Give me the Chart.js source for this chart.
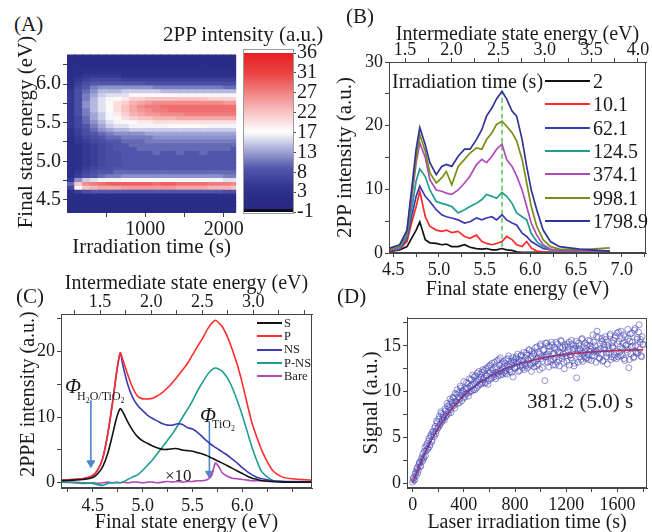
<!DOCTYPE html>
<html><head><meta charset="utf-8"><title>2PP figure</title>
<script src="https://cdn.jsdelivr.net/npm/chart.js"></script>
<style>
html,body{margin:0;padding:0;background:#fff;}
body{width:652px;height:532px;position:relative;overflow:hidden;font-family:'Liberation Serif','Times New Roman',serif;color:#1a1a1a;}
canvas{position:absolute;}
.t{position:absolute;white-space:nowrap;line-height:1;}
.ln{position:absolute;height:0;}
</style></head><body>
<canvas id="cA" width="245" height="222" style="left:0;top:40px"></canvas>
<canvas id="cCB" width="85" height="222" style="left:240px;top:40px"></canvas>
<canvas id="cB" width="322" height="293" style="left:330px;top:12px"></canvas>
<canvas id="cC" width="320" height="270" style="left:0;top:262px"></canvas>
<canvas id="cD" width="322" height="227" style="left:330px;top:305px"></canvas>
<script>
// ---------------- Panel A : heat map ----------------
const heatTimes = [50,150,250,350,450,550,650,750,850,950,1050,1150,1250,1350,1450,1550,1650,1750,1850,1950,2050,2150];
const heatEnergies = [4.35,4.40,4.45,4.50,4.55,4.60,4.65,4.70,4.75,4.80,4.85,4.90,4.95,5.00,5.05,5.10,5.15,5.20,5.25,5.30,5.35,5.40,5.45,5.50,5.55,5.60,5.65,5.70,5.75,5.80,5.85,5.90,5.95,6.00,6.05,6.10,6.15,6.20,6.25,6.30,6.35];
const heatRows = [
 [2,2,2,2,2,2,2,2,2,2,2,2,2,2,2,2,2,2,2,2,2,2],
 [2,2,2,2,2,2,2,2,2,2,2,2,2,2,2,2,2,2,2,2,2,2],
 [2,2,2,2,2,2,2,2,2,2,2,2,2,2,2,2,2,2,2,2,2,2],
 [2,2,2,2,2,2,2,2,2,2,2,2,2,2,2,2,2,2,2,2,2,2],
 [2,3,3,3,3,3,3,3,3,3,3,3,3,3,3,3,3,3,3,3,3,3],
 [3,6,8,9,9,9,9,9,9,9,9,9,9,9,9,9,9,9,9,9,8,8],
 [7,18,22,23,24,24,24,25,25,25,25,25,25,25,24,24,24,24,23,23,23,22],
 [10,22,26,27,28,29,29,29,29,29,29,28,29,29,28,28,28,28,27,27,27,26],
 [5,12,15,16,17,17,17,18,18,18,18,18,18,18,17,17,17,17,17,17,16,16],
 [3,6,8,9,10,11,11,12,12,12,12,12,12,12,12,12,12,12,12,12,11,11],
 [3,5,7,8,9,9,10,10,10,10,10,10,10,10,10,10,10,10,10,10,10,10],
 [3,4,6,7,8,8,9,9,9,9,9,9,9,9,9,9,9,9,9,9,9,9],
 [3,4,5,6,7,8,8,9,9,9,9,9,9,9,9,9,9,9,9,9,9,9],
 [3,4,5,6,7,8,8,9,9,9,9,9,9,9,9,9,9,9,9,9,9,9],
 [3,4,5,6,7,8,8,9,9,9,9,9,9,9,9,9,9,9,9,9,9,9],
 [3,4,5,6,7,8,8,9,9,9,9,10,9,9,10,9,9,10,9,9,9,9],
 [3,4,5,6,7,8,9,9,9,10,10,10,10,10,10,10,10,10,10,10,10,9],
 [3,4,5,6,7,8,9,9,10,10,10,10,10,10,10,10,10,10,10,10,10,10],
 [3,5,6,7,8,9,9,10,10,10,11,11,11,11,11,11,11,11,11,11,11,11],
 [3,5,7,8,9,10,10,11,11,11,11,12,12,12,12,12,12,12,12,12,12,12],
 [4,6,8,9,10,11,12,12,12,12,13,13,13,13,13,13,13,13,13,13,13,13],
 [4,6,8,10,12,13,14,14,15,15,15,15,15,15,15,15,15,15,15,15,15,15],
 [5,7,9,11,13,15,16,16,17,17,17,17,17,18,18,18,18,18,17,17,17,17],
 [5,7,10,12,14,16,17,18,18,19,19,20,20,20,20,20,20,20,20,20,20,20],
 [5,7,10,13,15,17,18,20,21,22,22,23,23,23,24,24,24,24,24,24,24,24],
 [5,8,11,13,15,17,19,21,23,24,25,25,26,26,26,27,27,27,27,27,27,27],
 [5,8,11,14,16,18,20,22,24,25,26,27,27,28,28,28,28,28,28,28,28,28],
 [5,8,12,14,16,18,20,22,24,26,27,27,28,28,28,28,28,28,28,28,28,28],
 [5,8,12,14,16,18,20,21,23,24,25,26,26,26,26,26,26,26,26,26,25,25],
 [5,8,11,14,16,17,18,19,21,21,22,22,22,22,22,22,22,22,21,21,21,21],
 [5,8,11,13,15,16,16,16,18,18,18,18,18,18,17,17,17,17,17,17,17,17],
 [5,8,10,12,14,14,14,15,15,15,15,15,14,14,14,14,14,14,14,14,14,14],
 [4,7,9,11,12,12,12,12,12,12,12,11,11,11,11,11,11,11,11,11,10,10],
 [4,6,8,9,9,9,9,9,9,9,8,8,8,8,8,8,8,8,8,8,8,8],
 [3,5,6,7,7,7,7,6,6,6,6,6,6,6,6,6,6,6,6,6,6,6],
 [3,4,5,5,5,5,5,4,4,4,4,4,4,4,4,4,4,4,4,4,4,4],
 [2,3,3,3,3,3,3,3,3,3,3,3,3,3,3,3,3,3,3,3,3,3],
 [2,2,2,2,2,2,2,2,2,2,2,2,2,2,2,2,2,2,2,2,2,2],
 [2,2,2,2,2,2,2,2,2,2,2,2,2,2,2,2,2,2,2,2,2,2],
 [2,2,2,2,2,2,2,2,2,2,2,2,2,2,2,2,2,2,2,2,2,2],
 [2,2,2,2,2,2,2,2,2,2,2,2,2,2,2,2,2,2,2,2,2,2]
];
const cbMin = -1, cbMax = 36;
const cbTickLabels = ['-1','3','8','13','17','22','27','31','36'];

// ---------------- Panel B : spectra vs irradiation time ----------------
const energyB = [4.45,4.57,4.65,4.70,4.75,4.79,4.85,4.90,4.97,5.03,5.08,5.14,5.21,5.28,5.34,5.41,5.47,5.52,5.58,5.63,5.69,5.74,5.80,5.85,5.91,5.96,6.01,6.07,6.14,6.22,6.32,6.54,6.87];
const timeLabelsB = ['2','10.1','62.1','124.5','374.1','998.1','1798.9'];
const b_2    = [0.2,0.5,1.0,2.3,3.6,4.9,2.1,1.6,1.5,1.3,1.4,1.0,1.0,1.3,0.9,0.7,0.6,0.7,0.5,0.5,0.7,0.5,0.4,0.2,0.1,0.1,0.1,0.1,0.1,0.1,0.1,0.1,0.1];
const b_10   = [0.3,0.6,1.8,4.7,7.3,9.7,5.7,4.2,3.6,3.4,3.6,3.2,3.4,2.6,2.3,2.8,1.8,1.5,1.3,1.5,1.8,2.6,2.1,1.3,1.0,1.8,0.8,0.3,0.2,0.1,0.1,0.1,0.1];
const b_62   = [0.4,0.6,2.3,5.7,8.9,10.5,8.9,8.1,6.8,6.0,5.7,5.5,5.2,4.7,4.9,5.5,5.2,5.5,5.7,5.2,6.0,5.2,4.7,4.4,3.1,2.6,1.8,1.3,0.7,0.5,0.4,0.3,0.3];
const b_124  = [0.5,0.7,2.6,6.8,11.3,13.2,12.0,9.9,8.1,7.8,7.6,7.3,6.3,6.8,7.3,7.8,8.4,9.2,8.9,8.6,9.5,8.9,7.8,6.3,5.7,5.2,3.1,1.8,1.0,0.5,0.3,0.2,0.2];
const b_374  = [0.5,0.9,3.1,8.4,14.2,17.3,15.0,11.5,9.9,9.7,9.4,9.2,9.9,11.0,12.1,13.9,14.7,14.2,15.2,16.3,17.1,14.7,13.6,12.1,9.9,7.3,4.7,2.8,1.3,0.6,0.3,0.2,0.2];
const b_998  = [0.6,1.0,3.4,9.4,14.7,18.6,16.0,12.6,11.0,11.8,12.8,10.7,13.6,14.7,15.7,16.5,16.3,17.8,18.9,20.2,20.7,19.9,18.9,17.6,14.7,11.0,7.3,4.2,2.1,1.0,0.6,0.5,0.8];
const b_1799 = [0.7,1.3,3.6,9.9,16.3,19.7,17.0,14.2,12.3,13.6,13.9,13.6,15.2,16.3,16.3,17.8,19.4,21.5,22.8,24.2,25.4,24.2,22.3,21.5,17.8,13.6,9.9,6.8,3.6,1.8,1.0,0.6,0.3];
const markerB = {energy: 5.69, from: 1.0, to: 25.4};

// ---------------- Panel C : samples ----------------
const energyC = [4.18,4.30,4.40,4.50,4.55,4.60,4.65,4.70,4.74,4.775,4.80,4.85,4.90,4.95,5.00,5.05,5.10,5.15,5.20,5.25,5.30,5.35,5.40,5.45,5.50,5.55,5.60,5.65,5.69,5.73,5.77,5.80,5.85,5.90,5.95,6.00,6.05,6.10,6.15,6.20,6.30,6.40,6.50,6.70];
const sampleNamesC = ['S','P','NS','P-NS','Bare'];
const c_S    = [0.3,0.4,0.5,0.8,1.4,2.5,4.5,7.5,10.0,11.3,10.8,9.3,8.0,7.0,6.4,6.0,5.6,5.3,5.1,5.1,5.2,5.2,5.0,4.9,4.8,4.6,4.4,4.1,3.8,3.5,3.2,3.0,2.6,2.2,1.8,1.4,1.0,0.7,0.5,0.3,0.2,0.1,0.1,0.1];
const c_P    = [0.4,0.5,0.6,1.1,2.0,3.8,7.5,12.5,17.0,19.8,18.8,16.5,14.5,13.2,12.8,12.8,12.9,13.3,13.8,14.5,15.3,16.2,17.2,18.2,19.5,20.8,22.0,23.4,24.3,24.8,24.3,23.8,22.3,20.3,18.0,15.2,12.0,9.0,6.8,4.8,2.0,0.9,0.6,0.4];
const c_NS   = [0.4,0.5,0.6,1.1,2.0,3.8,7.5,12.5,17.0,19.8,18.0,15.0,13.0,11.8,11.0,10.3,9.8,9.4,9.0,8.8,8.8,9.0,8.9,8.4,8.2,7.7,7.0,6.3,5.8,5.4,5.0,4.7,4.2,3.6,3.0,2.3,1.7,1.2,0.8,0.6,0.3,0.2,0.2,0.2];
const c_PNS  = [0.1,0.1,0.0,-0.1,-0.3,-0.4,-0.1,0.0,0.0,0.0,0.1,0.5,0.9,1.2,1.9,2.7,3.5,4.5,5.5,6.5,7.5,8.7,10.0,11.2,12.5,14.0,15.3,16.5,17.2,17.5,17.3,17.0,16.0,14.5,12.5,10.3,7.8,5.3,3.2,1.6,0.4,0.2,0.1,0.1];
const c_Bare = [0.1,0.0,-0.1,0.0,-0.1,0.0,0.1,0.0,0.1,0.0,0.1,0.0,0.1,0.1,0.0,0.1,0.1,0.0,0.1,0.2,0.1,0.2,0.1,0.2,0.2,0.3,0.3,0.5,1.0,3.0,2.3,1.5,1.0,0.7,0.6,0.5,0.4,0.3,0.3,0.3,0.2,0.2,0.1,0.1];
const arrowH2O  = {energy: 4.48, from: 12.6, to: 3.0};
const arrowTiO2 = {energy: 5.67, from: 9.3, to: 1.4};

// ---------------- Panel D : kinetics ----------------
const stepD = 8; // s between samples in each sweep
const signalD = [
0.1,0.6,0.4,1.2,1.5,1.1,2.0,2.3,1.9,2.8,
3.2,2.8,3.9,3.5,4.3,3.8,4.9,4.2,5.3,4.7,
5.6,5.1,6.2,5.7,6.6,6.1,7.3,6.5,7.6,6.9,
7.5,6.9,7.9,7.4,8.4,7.6,8.6,8.0,9.0,8.4,
9.3,8.2,8.9,9.7,8.7,9.9,9.2,10.4,9.0,10.1,
11.1,9.4,10.3,9.8,10.9,9.9,10.6,11.3,10.1,10.8,
11.6,10.2,11.1,12.0,10.6,11.4,11.9,10.8,12.1,11.3,
12.3,10.9,11.8,12.6,11.2,12.0,12.9,11.5,12.4,11.8,
13.2,11.4,12.5,12.0,13.5,12.2,11.8,13.0,12.6,12.1,
13.1,12.3,11.9,13.6,12.7,12.2,13.3,12.9,11.6,13.4,
12.5,13.8,13.1,12.2,13.5,12.8,14.0,12.9,13.3,12.4,
13.7,14.2,12.6,13.4,14.5,13.0,12.2,13.9,14.1,13.2,
14.8,12.8,13.6,14.3,12.4,15.2,13.9,13.3,14.6,11.2,
13.8,15.3,14.1,12.7,14.9,13.5,15.1,12.9,14.2,13.7,
15.4,13.2,14.4,12.8,14.8,15.5,13.6,14.1,12.5,14.9,
13.9,15.2,14.5,12.9,14.0,15.6,13.4,14.7,13.1,15.0,
11.5,14.6,15.3,13.8,14.2,15.7,13.3,14.9,14.4,13.6,
15.1,14.0,13.5,15.5,14.6,13.9,16.2,14.3,15.0,13.2,
16.6,14.5,13.7,15.2,14.1,15.8,13.4,14.8,16.0,14.2,
13.0,15.4,14.6,16.3,13.8,14.9,15.6,14.0,16.1,13.6,
15.2,16.5,14.3,13.9,15.8,14.7,16.2,13.4,15.0,14.6,
16.8,12.6,15.5,14.1,16.4,15.0,13.8,16.9,14.4,15.7,
14.2,17.3,15.4,13.9,16.0,15.1];
// samples taken half a step later (t = 4, 12, 20, ...)
const signalD2 = [
0.5,0.3,1.0,0.8,1.7,1.4,2.2,1.8,2.6,2.4,
2.6,3.5,3.0,4.1,3.7,4.6,4.0,5.1,4.5,5.6,
5.3,6.0,5.4,6.8,6.0,7.0,6.3,7.8,6.7,7.2,
7.1,8.1,7.3,8.7,7.8,8.3,9.2,7.7,8.8,9.4,
8.5,9.8,8.9,10.2,9.4,8.8,10.6,9.6,10.0,9.3,
10.3,9.7,11.0,10.4,9.5,11.4,10.0,10.7,11.8,10.2,
10.9,11.7,10.4,11.3,12.2,10.8,11.6,11.0,12.4,11.5,
11.0,12.5,11.7,10.8,12.8,12.1,11.4,13.1,12.0,11.6,
12.7,12.1,13.4,11.7,12.9,13.7,12.3,11.9,13.3,12.8,
12.0,13.5,12.8,13.9,12.4,13.0,12.1,13.7,13.2,12.6,
13.6,12.7,14.1,13.2,12.3,13.9,13.4,12.6,14.3,13.0,
12.8,14.0,13.5,14.6,12.9,13.7,14.4,13.1,12.7,14.2,
13.4,14.9,13.0,14.1,15.0,13.6,12.6,14.5,13.8,15.3,
14.0,13.2,15.0,14.4,13.3,15.4,14.1,13.5,14.8,12.9,
14.6,15.2,13.5,14.3,15.6,13.9,14.8,13.2,15.1,14.2,
13.3,14.9,15.4,14.0,13.7,15.2,14.5,12.8,14.7,15.5,
14.1,13.2,15.0,14.6,13.5,15.8,14.2,13.8,15.3,14.7,
13.7,15.6,14.4,15.0,13.4,14.8,15.4,13.9,14.5,16.0,
14.3,15.9,13.6,14.7,15.5,13.3,15.1,14.6,15.7,13.8,
15.0,14.2,16.1,13.5,15.3,14.8,13.7,15.9,14.4,16.4,
13.8,15.5,14.9,16.6,14.0,15.3,13.6,16.0,15.1,14.3,
15.8,13.5,16.3,14.9,15.4,13.7,16.7,15.0,14.2,15.9,
16.5,14.6,15.7,13.8,15.2];
const fitTimesD = [0,25,50,75,100,150,200,250,300,350,400,500,600,700,800,900,1000,1100,1200,1300,1400,1500,1600,1700,1800];
const fitValuesD = [0,0.93,1.81,2.63,3.39,4.78,6.00,7.07,8.01,8.83,9.55,10.74,11.65,12.36,12.90,13.31,13.63,13.88,14.07,14.21,14.33,14.41,14.48,14.53,14.57];
const fitLabelD = '381.2 (5.0) s';

// ================= drawing =================
const SERIF = "'Liberation Serif','Times New Roman',serif";
Chart.defaults.font.family = SERIF;
Chart.defaults.color = '#1a1a1a';
Chart.defaults.animation = false;
Chart.defaults.plugins.legend.display = false;
Chart.defaults.plugins.tooltip.enabled = false;

const framePlugin = {
  id: 'frame',
  afterDraw(chart, args, opts) {
    if (!opts || !opts.show) return;
    const a = chart.chartArea, ctx = chart.ctx, e = opts.expand || [0,0,0,0];
    ctx.save();
    ctx.strokeStyle = opts.color || '#444';
    ctx.lineWidth = 1;
    const l = Math.round(a.left - e[3]) + 0.5, t = Math.round(a.top - e[0]) + 0.5;
    const r = Math.round(a.right + e[1]) - 0.5, b = Math.round(a.bottom + e[2]) - 0.5;
    ctx.strokeRect(l, t, r - l, b - t);
    ctx.restore();
  }
};
Chart.register(framePlugin);

function axis(o) {
  const vals = [...o.major, ...(o.minor || [])].sort((a, b) => a - b);
  const vert = o.pos === 'left' || o.pos === 'right';
  return {
    type: 'linear', position: o.pos, min: o.min, max: o.max, offset: false,
    afterBuildTicks: s => { s.ticks = vals.map(v => ({value: v})); },
    afterFit: s => { if (vert) s.width = o.size; else s.height = o.size; },
    ticks: {
      autoSkip: false, maxRotation: 0, font: {size: o.font || 18}, padding: o.lpad == null ? 2 : o.lpad, color: '#1a1a1a',
      callback: (v, i) => {
        const k = o.major.findIndex(m => Math.abs(m - v) < 1e-9);
        if (k < 0) return '';
        return o.labels ? o.labels[k] : o.fmt(v);
      }
    },
    grid: {display: true, drawOnChartArea: false, drawTicks: true, tickLength: o.tickLen || 4, color: '#444', offset: false},
    border: {display: o.border !== false, color: '#444'},
    title: o.title ? {display: true, text: o.title, font: {size: o.tfont || 20}, padding: o.tpad, color: '#1a1a1a'} : {display: false}
  };
}
const f1 = v => v.toFixed(1);
const f0 = v => String(Math.round(v));

const cmapStops = [[-1,[10,10,20]],[-0.5,[10,10,20]],[-0.49,[40,40,132]],[4,[46,48,140]],[9,[82,86,170]],[13,[160,164,214]],[17.5,[255,255,255]],[22,[248,195,195]],[27,[240,125,125]],[31,[234,68,68]],[36,[230,30,35]]];
function cmap(v) {
  if (v <= cmapStops[0][0]) return 'rgb(' + cmapStops[0][1].join(',') + ')';
  for (let i = 1; i < cmapStops.length; i++) {
    const [v1, c1] = cmapStops[i], [v0, c0] = cmapStops[i - 1];
    if (v <= v1) {
      const t = (v - v0) / (v1 - v0);
      return 'rgb(' + c0.map((c, j) => Math.round(c + (c1[j] - c) * t)).join(',') + ')';
    }
  }
  return 'rgb(' + cmapStops[cmapStops.length - 1][1].join(',') + ')';
}

// ---- A heat map
const halfRow = (heatEnergies[1] - heatEnergies[0]) / 2;
new Chart(document.getElementById('cA'), {
  type: 'bar',
  data: {datasets: heatEnergies.map((E, r) => ({
    data: heatTimes.map(t => ({x: t, y: [E - halfRow, E + halfRow]})),
    backgroundColor: heatRows[r].map(cmap),
    borderWidth: 0, grouped: false, barPercentage: 1, categoryPercentage: 1, inflateAmount: 0.6
  }))},
  options: {
    responsive: false,
    layout: {padding: {top: 8, right: 5, left: 0, bottom: 0}},
    scales: {
      x: axis({pos: 'bottom', min: 0, max: 2160, major: [1000, 2000], minor: [500, 1500], fmt: f0, size: 49, font: 20, border: false,
               title: 'Irradiation time (s)', tfont: 21, tpad: {top: 0, bottom: 2}, lpad: 1}),
      y: axis({pos: 'left', min: 4.33, max: 6.39, major: [4.5, 5.0, 5.5, 6.0], minor: [4.75, 5.25, 5.75, 6.25], fmt: f1, size: 67, font: 20, border: false})
    }
  }
});

// ---- A colour bar
const cbSegs = [];
for (let v = cbMin; v < cbMax - 1e-9; v += 0.5) cbSegs.push([v, v + 0.5]);
const cbTickVals = cbTickLabels.map((_, i) => cbMin + i * (cbMax - cbMin) / (cbTickLabels.length - 1));
new Chart(document.getElementById('cCB'), {
  type: 'bar',
  data: {labels: [''], datasets: cbSegs.map(s => ({
    data: [s], backgroundColor: cmap((s[0] + s[1]) / 2), borderWidth: 0,
    grouped: false, barPercentage: 1, categoryPercentage: 1, inflateAmount: 0.6
  }))},
  options: {
    responsive: false,
    layout: {padding: {top: 12, right: 0, left: 4, bottom: 50}},
    scales: {
      x: {display: false},
      y: axis({pos: 'right', min: cbMin, max: cbMax, major: cbTickVals, labels: cbTickLabels, size: 32, font: 20, border: false, tickLen: 3, lpad: 1})
    },
    plugins: {frame: {show: true, color: '#999', expand: [4, 1, 2, 1]}}
  }
});

// ---- B
const colorsB = ['#111111', '#ff2a2a', '#3a3ab4', '#1f9e8f', '#b04ab8', '#7d8c14', '#2f3597'];
const seriesB = [b_2, b_10, b_62, b_124, b_374, b_998, b_1799];
const dsB = seriesB.map((s, i) => ({
  label: timeLabelsB[i],
  data: energyB.map((e, k) => ({x: e, y: s[k]})),
  borderColor: colorsB[i], borderWidth: 1.7, pointRadius: 0, tension: 0
})).reverse();
dsB.push({label: 'marker', data: [{x: markerB.energy, y: markerB.from}, {x: markerB.energy, y: markerB.to}],
  borderColor: '#55c855', borderWidth: 1.5, borderDash: [5, 3], pointRadius: 0});
new Chart(document.getElementById('cB'), {
  type: 'line',
  data: {datasets: dsB},
  options: {
    responsive: false,
    layout: {padding: {top: 0, right: 6, left: 0, bottom: 0}},
    scales: {
      x: axis({pos: 'bottom', min: 4.453, max: 7.266, major: [4.5, 5.0, 5.5, 6.0, 6.5, 7.0], minor: [4.75, 5.25, 5.75, 6.25, 6.75, 7.25], fmt: f1, size: 52,
               title: 'Final state energy (eV)', tpad: {top: 0, bottom: 3}}),
      x2: axis({pos: 'top', min: 1.328, max: 4.086, major: [1.5, 2.0, 2.5, 3.0, 3.5, 4.0], minor: [1.75, 2.25, 2.75, 3.25, 3.75], fmt: f1, size: 50,
               title: 'Intermediate state energy (eV)', tpad: {top: 11, bottom: 0}, lpad: -3}),
      y: axis({pos: 'left', min: 0, max: 30, major: [0, 10, 20, 30], minor: [5, 15, 25], fmt: f0, size: 59,
               title: '2PP intensity (a.u.)', tfont: 21, tpad: {top: 3, bottom: 0}})
    },
    plugins: {frame: {show: true}}
  }
});

// ---- C
const colorsC = ['#111111', '#ff2d2d', '#3b3bb4', '#1f9e8f', '#b04ab8'];
const seriesC = [c_S, c_P, c_NS, c_PNS, c_Bare];
const dsC = seriesC.map((s, i) => ({
  label: sampleNamesC[i],
  data: energyC.map((e, k) => ({x: e, y: s[k]})),
  borderColor: colorsC[i], borderWidth: 1.6, pointRadius: 0, tension: 0.3
}));
[arrowH2O, arrowTiO2].forEach(a => dsC.push({
  label: 'arrow', data: [{x: a.energy, y: a.from}, {x: a.energy, y: a.to}],
  borderColor: '#4f86c6', borderWidth: 1.6, pointRadius: [0, 4.5], pointStyle: 'triangle', rotation: 180,
  pointBackgroundColor: '#4f86c6', pointBorderColor: '#4f86c6', pointBorderWidth: 1
}));
new Chart(document.getElementById('cC'), {
  type: 'line',
  data: {datasets: dsC},
  options: {
    responsive: false,
    layout: {padding: {top: 0, right: 8, left: 0, bottom: 0}},
    scales: {
      x: axis({pos: 'bottom', min: 4.18, max: 6.70, major: [4.5, 5.0, 5.5, 6.0], minor: [4.25, 4.75, 5.25, 5.75, 6.25, 6.5], fmt: f1, size: 44,
               title: 'Final state energy (eV)', tpad: {top: 0, bottom: -3}, lpad: 3}),
      x2: axis({pos: 'top', min: 1.118, max: 3.574, major: [1.5, 2.0, 2.5, 3.0], minor: [1.25, 1.75, 2.25, 2.75, 3.25, 3.5], fmt: f1, size: 52,
               title: 'Intermediate state energy (eV)', tpad: {top: 10, bottom: 0}, lpad: -3}),
      y: axis({pos: 'left', min: -0.8, max: 25.75, major: [0, 10, 20], minor: [5, 15, 25], fmt: f0, size: 61})
    },
    plugins: {frame: {show: true}}
  }
});

// ---- D
const pointsD = signalD.map((v, i) => ({x: i * stepD, y: v}))
  .concat(signalD2.map((v, i) => ({x: i * stepD + stepD / 2, y: v})));
new Chart(document.getElementById('cD'), {
  type: 'scatter',
  data: {datasets: [
    {label: 'data', data: pointsD, pointStyle: 'circle', pointRadius: 3,
     pointBackgroundColor: 'rgba(0,0,0,0)', pointBorderColor: 'rgba(72,72,180,0.7)', pointBorderWidth: 0.85, showLine: false},
    {label: 'fit', data: fitTimesD.map((t, i) => ({x: t, y: fitValuesD[i]})), showLine: true, pointRadius: 0,
     borderColor: '#ff2020', borderWidth: 1.7, cubicInterpolationMode: 'monotone'}
  ]},
  options: {
    responsive: false,
    layout: {padding: {top: 7, right: 4, left: 0, bottom: 0}},
    scales: {
      x: axis({pos: 'bottom', min: -44, max: 1831, major: [0, 400, 800, 1200, 1600], minor: [200, 600, 1000, 1400, 1800], fmt: f0, size: 44,
               title: 'Laser irradiation time (s)', tpad: {top: 0, bottom: -3}, lpad: 2}),
      y: axis({pos: 'left', min: -0.53, max: 18.06, major: [0, 5, 10, 15], minor: [2.5, 7.5, 12.5, 17.5], fmt: f0, size: 77,
               title: 'Signal (a.u.)', tfont: 21, tpad: {top: 29, bottom: 0}})
    },
    plugins: {frame: {show: true}}
  }
});

// ================= text overlays =================
function txt(html, x, cy, size, extra) {
  const d = document.createElement('div');
  d.className = 't';
  d.innerHTML = html;
  d.style.left = x + 'px';
  d.style.top = (cy - size * 0.5) + 'px';
  d.style.fontSize = size + 'px';
  if (extra) Object.assign(d.style, extra);
  document.body.appendChild(d);
  return d;
}
function vtxt(html, cx, cy, size) {
  const d = document.createElement('div');
  d.className = 't';
  d.innerHTML = html;
  d.style.left = cx + 'px';
  d.style.top = cy + 'px';
  d.style.fontSize = size + 'px';
  d.style.transform = 'translate(-50%,-50%) rotate(-90deg)';
  document.body.appendChild(d);
}
function line(x, y, w, color, width) {
  const d = document.createElement('div');
  d.className = 'ln';
  d.style.left = x + 'px';
  d.style.top = (y - width / 2) + 'px';
  d.style.width = w + 'px';
  d.style.borderTop = width + 'px solid ' + color;
  document.body.appendChild(d);
}
// panel letters
txt('(A)', 14, 24, 21);
txt('(B)', 346, 16, 21);
txt('(C)', 16, 296, 21);
txt('(D)', 337, 296, 21);
// A titles
vtxt('Final state energy (eV)', 25, 132, 21);
txt('2PP intensity (a.u.)', 163, 34, 21);
// B legend
txt('Irradiation time (s)', 392, 81, 20);
timeLabelsB.forEach((lab, i) => {
  const y = 81 + i * 23.3;
  line(545, y, 45, colorsB[i], 2);
  txt(lab, 593, y, 20);
});
// C y title, legend, annotations
vtxt('2PPE intensity (a.u.)', 27, 394, 20);
sampleNamesC.forEach((lab, i) => {
  const y = 323 + i * 13.3;
  line(257, y, 25, colorsC[i], 2);
  txt(lab, 284, y, 12.5);
});
txt('<i>Φ</i>', 65, 386, 21);
txt('H<sub style="font-size:8px">2</sub>O/TiO<sub style="font-size:8px">2</sub>', 77, 396, 12);
txt('<i>Φ</i>', 200, 415, 21);
txt('TiO<sub style="font-size:8px">2</sub>', 212, 424, 12);
txt('×10', 165, 475, 17);
// D fit label
txt(fitLabelD, 527, 401, 21);
</script></body></html>
